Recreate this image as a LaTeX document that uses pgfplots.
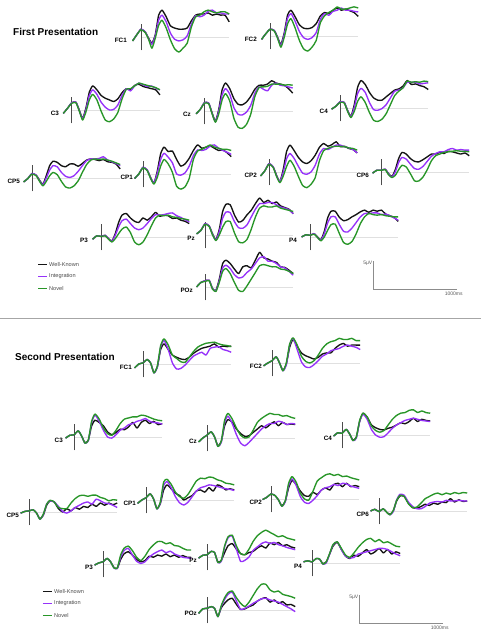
\documentclass[border=0pt]{standalone}
\usepackage{fontspec}
\setmainfont{Liberation Sans}
\usepackage{pgfplots}
\usepackage{pgfplotstable}
\pgfplotsset{compat=1.18}
\definecolor{kcol}{RGB}{20,20,20}
\definecolor{pcol}{RGB}{150,50,250}
\definecolor{gcol}{RGB}{40,150,40}
\newcommand{\labfont}{\fontsize{6.3}{7}\selectfont\bfseries}
\newcommand{\titfont}{\fontsize{10}{12}\selectfont\bfseries}
\newcommand{\legfont}{\fontsize{5.6}{6.5}\selectfont}
\newcommand{\sclfont}{\fontsize{5}{6}\selectfont}

% ---------------- First presentation ----------------
\pgfplotstableread{
t k p g
-100 -0.7 -0.7 -0.7
-50 0.4 0.4 0.4
0 1.4 1.4 1.3
50 0.9 0.9 0.8
90 -0.2 -0.3 -0.4
130 -1.1 -1.3 -2.0
170 0.4 0.2 -0.2
210 3.9 3.0 2.1
250 4.8 3.9 3.0
300 3.6 2.7 1.6
350 2.0 0.7 -0.5
400 1.6 -0.4 -2.1
450 1.4 -0.7 -2.7
500 1.4 -0.5 -2.0
550 1.6 0.2 -1.1
600 2.9 2.3 1.8
650 3.9 3.8 3.6
700 4.1 3.6 3.9
750 4.1 3.9 4.5
800 4.3 4.6 4.8
850 3.9 4.8 4.5
900 4.1 4.3 4.3
950 3.9 4.3 4.5
1000 3.9 4.1 4.5
1050 2.7 4.1 4.1
}\fFCone
\pgfplotstableread{
t k p g
-100 -0.6 -0.6 -0.6
-50 0.4 0.4 0.4
0 1.2 1.2 1.2
50 1.0 1.0 0.9
90 -0.2 -0.3 -0.4
130 -1.5 -1.7 -2.0
170 0.6 0.3 -0.2
210 3.8 3.2 2.2
250 4.6 4.0 3.1
300 3.4 2.6 1.4
350 2.0 0.8 -0.8
400 1.4 -0.3 -2.3
450 1.3 -0.6 -2.7
500 1.5 -0.3 -2.0
550 2.2 0.6 -0.8
600 3.6 3.0 2.4
650 4.2 4.0 3.6
700 4.0 3.7 4.2
750 4.6 4.4 4.6
800 5.0 4.6 5.2
850 4.6 5.0 4.8
900 4.8 4.6 4.8
950 4.5 4.6 5.0
1000 4.2 4.4 5.2
1050 3.5 4.3 5.0
}\fFCtwo
\pgfplotstableread{
t k p g
-100 -0.6 -0.6 -0.6
-50 0.3 0.3 0.3
0 1.3 1.3 1.2
50 1.4 1.4 1.3
90 0.0 -0.1 -0.2
130 -1.5 -1.6 -1.8
170 0.4 0.1 -0.3
210 3.2 2.6 1.8
250 4.3 3.6 2.8
300 3.6 2.8 1.8
350 2.6 1.4 -0.2
400 2.1 0.5 -1.8
450 1.8 0.0 -2.1
500 1.5 0.1 -1.6
550 2.0 0.9 -0.4
600 3.1 2.6 2.0
650 3.8 3.8 3.7
700 3.6 3.4 3.8
750 4.4 4.3 4.3
800 4.6 4.8 4.8
850 4.2 4.5 4.6
900 4.0 4.2 4.4
950 3.8 4.3 4.2
1000 3.6 3.9 4.0
1050 2.7 3.6 3.6
}\fCthree
\pgfplotstableread{
t k p g
-100 -0.5 -0.5 -0.5
-50 0.3 0.3 0.3
0 1.5 1.5 1.4
50 1.4 1.4 1.3
90 -0.3 -0.4 -0.5
130 -1.8 -1.9 -2.0
170 0.3 0.0 -0.5
210 3.8 2.9 2.0
250 5.0 4.0 3.1
300 4.0 3.0 1.8
350 2.2 0.6 -1.3
400 1.2 -0.6 -2.9
450 1.1 -0.7 -3.1
500 1.6 -0.2 -2.4
550 2.6 1.0 -0.6
600 3.9 3.2 2.6
650 4.6 4.3 4.2
700 4.6 3.9 4.3
750 4.8 3.6 4.4
800 5.4 4.6 4.8
850 5.0 5.0 4.8
900 4.8 4.6 4.8
950 4.6 4.5 4.6
1000 4.0 4.3 4.7
1050 3.2 4.1 4.6
}\fCz
\pgfplotstableread{
t k p g
-100 -0.2 -0.2 -0.2
-50 0.3 0.3 0.3
0 1.1 1.1 1.0
50 1.0 1.0 0.9
90 -0.4 -0.5 -0.6
130 -1.5 -1.6 -1.7
170 0.6 0.1 -0.6
210 3.7 2.6 1.2
250 4.9 3.5 2.0
300 4.2 2.8 1.0
350 2.8 1.0 -0.8
400 1.8 -0.3 -2.2
450 1.4 -0.4 -2.4
500 1.4 -0.1 -2.0
550 2.0 0.6 -1.0
600 2.6 1.8 0.6
650 3.2 3.0 2.2
700 3.4 3.2 3.0
750 3.9 3.6 3.6
800 4.9 4.6 4.8
850 4.2 4.6 4.6
900 4.3 4.6 4.7
950 4.0 4.3 4.6
1000 3.8 4.4 4.8
1050 3.3 4.5 4.7
}\fCfour
\pgfplotstableread{
t k p g
-100 -0.7 -0.7 -0.7
-50 -0.1 -0.1 -0.1
0 0.8 0.8 0.7
50 0.5 0.5 0.4
90 -0.4 -0.5 -0.6
130 -1.1 -1.2 -1.4
170 0.4 0.0 -0.6
210 2.2 1.4 0.4
250 3.0 2.2 1.0
300 2.8 2.0 0.6
350 2.2 1.0 -0.6
400 2.0 0.3 -1.6
450 2.5 0.1 -1.8
500 2.5 0.4 -1.4
550 2.1 1.2 -0.5
600 2.6 2.2 1.0
650 3.2 3.1 2.4
700 3.4 3.4 3.2
750 3.3 3.4 3.4
800 3.1 3.5 3.3
850 3.3 3.8 3.4
900 2.9 3.2 3.2
950 2.8 2.9 3.0
1000 2.5 2.6 2.7
1050 1.6 2.2 2.4
}\fCPfive
\pgfplotstableread{
t k p g
-100 -0.8 -0.8 -0.8
-50 0.0 0.0 0.0
0 1.2 1.2 1.1
50 0.7 0.7 0.6
90 -0.6 -0.7 -0.8
130 -1.6 -1.6 -1.8
170 0.5 0.1 -0.6
210 3.6 2.6 1.4
250 4.8 3.7 2.6
300 4.0 3.0 1.8
350 4.1 2.0 0.3
400 2.6 0.0 -2.2
450 1.4 -0.2 -2.7
500 1.8 0.2 -2.3
550 2.8 1.4 -0.8
600 4.2 3.3 2.6
650 5.2 4.3 4.1
700 4.6 4.2 4.4
750 4.8 4.4 4.8
800 5.0 5.0 5.2
850 4.6 5.2 4.8
900 4.2 4.6 4.6
950 4.3 4.2 4.4
1000 3.8 3.9 4.4
1050 3.1 3.5 4.2
}\fCPone
\pgfplotstableread{
t k p g
-100 -0.7 -0.7 -0.7
-50 0.2 0.2 0.2
0 1.5 1.5 1.4
50 0.9 0.9 0.8
90 -0.6 -0.7 -0.8
130 -1.7 -1.7 -1.9
170 0.5 0.0 -0.7
210 3.7 2.4 1.0
250 4.8 3.3 2.1
300 3.8 2.4 1.0
350 2.6 1.0 -0.8
400 1.8 -0.2 -2.4
450 1.5 -0.4 -2.8
500 2.0 0.0 -2.2
550 3.0 1.2 -1.0
600 4.4 3.2 2.0
650 5.1 4.2 3.8
700 4.6 4.0 4.2
750 4.9 4.4 4.5
800 5.4 4.8 4.6
850 4.5 4.8 4.6
900 4.6 4.5 4.5
950 4.2 4.3 4.3
1000 4.0 4.0 4.2
1050 3.4 3.4 3.9
}\fCPtwo
\pgfplotstableread{
t k p g
-100 -0.2 -0.2 -0.2
-50 0.3 0.3 0.3
0 0.3 0.3 0.3
50 0.5 0.5 0.4
90 -0.3 -0.4 -0.5
130 -0.8 -0.9 -1.0
170 0.4 0.0 -0.6
210 2.4 1.7 0.4
250 3.5 2.6 1.2
300 3.2 2.3 0.9
350 2.4 1.4 -0.3
400 1.9 0.6 -1.6
450 1.8 0.5 -1.6
500 2.2 1.0 -0.9
550 2.7 1.9 0.4
600 3.2 2.8 2.0
650 3.2 3.3 2.9
700 3.5 3.6 3.2
750 3.3 3.6 3.5
800 3.7 4.0 3.6
850 3.6 4.2 3.7
900 3.4 3.9 3.8
950 3.2 4.0 3.7
1000 3.4 3.9 3.7
1050 2.9 3.9 3.6
}\fCPsix
\pgfplotstableread{
t k p g
-100 -0.4 -0.4 -0.4
-50 0.2 0.2 0.2
0 0.1 0.1 0.1
50 0.3 0.3 0.2
90 -0.3 -0.3 -0.4
130 -0.7 -0.8 -0.9
170 0.6 0.3 -0.3
210 2.6 1.8 0.6
250 3.9 2.9 1.4
300 4.2 3.2 1.8
350 3.4 2.4 0.8
400 2.8 1.6 -0.9
450 2.6 1.3 -1.4
500 3.4 1.6 -0.9
550 3.0 2.4 0.4
600 3.6 3.3 2.0
650 4.4 4.0 3.4
700 3.7 3.9 3.9
750 3.9 4.0 3.8
800 3.8 4.2 3.9
850 3.3 4.3 3.6
900 3.4 3.8 3.5
950 3.0 3.5 3.3
1000 2.8 3.1 3.2
1050 2.4 2.7 3.0
}\fPthree
\pgfplotstableread{
t k p g
-100 0.2 0.2 0.2
-50 0.8 0.8 0.8
0 2.0 2.0 1.9
50 1.6 1.6 1.5
90 0.2 0.1 0.0
130 -0.8 -0.9 -1.0
170 1.0 0.6 0.0
210 4.2 3.0 1.4
250 5.5 4.1 2.4
300 5.4 4.0 2.4
350 3.6 2.4 0.4
400 2.3 1.3 -1.2
450 2.6 1.2 -1.4
500 3.6 1.8 -0.8
550 4.4 3.2 1.0
600 5.6 4.6 3.2
650 6.6 5.6 4.8
700 5.8 5.6 5.2
750 6.2 5.8 5.0
800 5.6 5.8 5.0
850 5.9 5.4 5.2
900 5.2 5.0 4.8
950 4.9 4.8 4.6
1000 4.6 4.5 4.4
1050 3.8 3.8 4.2
}\fPz
\pgfplotstableread{
t k p g
-100 0.0 0.0 0.0
-50 0.4 0.4 0.4
0 0.3 0.3 0.3
50 0.6 0.6 0.5
90 0.0 -0.1 -0.1
130 -0.5 -0.6 -0.7
170 1.0 0.6 0.0
210 3.4 2.5 1.2
250 4.6 3.6 2.2
300 4.6 3.6 2.3
350 3.5 2.2 0.6
400 2.9 1.0 -1.0
450 3.1 0.9 -1.3
500 3.6 1.6 -0.8
550 4.0 2.6 0.6
600 4.5 3.6 2.4
650 4.8 4.2 3.6
700 4.4 4.2 4.2
750 4.8 4.3 4.0
800 4.6 4.3 3.9
850 4.8 4.0 4.0
900 4.1 4.1 3.8
950 3.8 3.8 3.7
1000 3.5 3.4 3.6
1050 2.8 3.0 3.6
}\fPfour
\pgfplotstableread{
t k p g
-100 0.0 0.0 0.0
-50 0.8 0.8 0.8
0 1.1 1.1 1.0
50 1.2 1.2 1.1
90 -0.3 -0.3 -0.4
130 -0.6 -0.7 -0.8
170 1.4 1.1 0.8
210 4.2 3.4 2.8
250 4.8 3.9 3.3
300 4.2 3.3 2.4
350 3.2 2.2 0.8
400 2.4 1.6 -0.6
450 3.6 1.8 -0.8
500 3.8 2.6 0.2
550 3.4 3.2 1.4
600 4.8 4.2 2.6
650 6.2 5.2 3.8
700 5.2 5.4 4.0
750 5.0 4.6 3.8
800 4.6 4.6 3.6
850 4.4 4.2 3.6
900 3.6 3.6 3.2
950 3.5 3.4 3.1
1000 3.0 2.8 2.8
1050 2.4 2.1 2.4
}\fPOz

% ---------------- Second presentation ----------------
\pgfplotstableread{
t k p g
-100 -0.7 -0.7 -0.7
-50 0.0 0.0 0.0
0 0.2 0.2 0.2
50 0.8 0.8 0.8
90 0.2 0.2 0.2
130 -1.5 -1.6 -1.6
170 -0.6 -0.6 -0.4
210 2.6 3.0 3.3
250 3.6 4.2 4.5
300 2.6 2.6 3.4
350 1.6 0.2 1.6
400 1.2 -0.9 1.0
450 0.9 -0.8 0.4
500 0.8 -0.2 0.3
550 1.2 0.6 1.2
600 1.9 1.4 2.2
650 2.4 1.8 3.0
700 2.8 2.1 3.4
750 3.0 1.6 3.7
800 3.2 2.8 3.8
850 3.6 3.0 3.9
900 3.0 3.1 3.6
950 3.2 2.6 3.4
1000 3.1 2.4 3.3
1050 3.2 2.1 3.1
}\sFCone
\pgfplotstableread{
t k p g
-100 -0.5 -0.5 -0.5
-50 0.0 0.0 0.0
0 0.4 0.4 0.4
50 1.1 1.1 1.1
90 0.0 0.0 0.0
130 -1.3 -1.4 -1.4
170 -0.2 -0.4 0.0
210 2.8 3.2 3.4
250 4.2 4.4 4.5
300 3.0 2.4 3.2
350 1.8 0.2 1.2
400 1.3 -0.7 0.3
450 1.0 -0.8 0.0
500 0.7 -0.3 0.4
550 1.0 0.4 1.4
600 1.6 1.2 2.6
650 1.8 1.6 3.4
700 1.8 2.2 3.8
750 2.6 2.4 4.0
800 3.2 2.6 4.4
850 3.5 3.0 4.2
900 3.0 3.2 4.2
950 3.2 3.0 4.4
1000 3.2 2.8 4.0
1050 3.2 2.4 4.0
}\sFCtwo
\pgfplotstableread{
t k p g
-100 -0.2 -0.2 -0.2
-50 0.3 0.3 0.3
0 0.4 0.4 0.4
50 1.1 1.1 1.1
90 0.2 0.2 0.2
130 -1.0 -1.1 -1.1
170 -0.6 -0.7 -0.6
210 2.0 2.6 2.8
250 3.0 3.9 4.1
300 2.6 2.8 3.2
350 2.0 1.2 1.6
400 0.9 0.0 0.6
450 0.4 -0.2 0.3
500 0.8 0.4 1.2
550 1.4 1.2 2.4
600 1.3 1.6 3.2
650 1.8 2.2 3.4
700 2.6 2.4 3.6
750 1.6 2.8 3.6
800 2.6 3.0 3.9
850 3.0 3.3 3.8
900 2.4 2.8 3.5
950 2.8 2.6 3.2
1000 2.2 2.5 3.0
1050 2.4 2.3 2.9
}\sCthree
\pgfplotstableread{
t k p g
-100 -0.7 -0.7 -0.7
-50 0.0 0.0 0.0
0 0.5 0.5 0.5
50 1.1 1.1 1.1
90 0.2 0.2 0.2
130 -1.4 -1.5 -1.5
170 -0.6 -0.8 -0.6
210 2.2 2.8 3.2
250 3.3 3.9 4.4
300 2.8 2.6 3.4
350 1.6 0.6 1.8
400 0.8 -0.9 0.5
450 0.3 -1.4 0.0
500 0.4 -0.8 0.2
550 1.0 0.0 1.4
600 1.6 0.8 2.8
650 2.2 1.6 3.5
700 1.8 2.2 4.0
750 2.4 2.6 4.4
800 2.9 2.6 4.2
850 2.2 3.0 4.2
900 2.8 2.8 3.9
950 2.4 2.4 4.0
1000 2.5 2.6 3.7
1050 2.4 2.5 3.5
}\sCz
\pgfplotstableread{
t k p g
-100 -0.2 -0.2 -0.2
-50 0.4 0.4 0.4
0 0.3 0.3 0.3
50 1.0 1.0 1.0
90 0.2 0.2 0.2
130 -0.9 -1.0 -1.0
170 -0.4 -0.6 -0.4
210 2.4 2.4 2.6
250 3.9 3.7 3.9
300 3.2 2.8 3.2
350 1.8 1.0 1.6
400 1.3 0.0 0.8
450 1.0 -0.4 0.5
500 0.9 -0.3 0.8
550 1.2 0.4 1.8
600 1.4 1.2 2.8
650 1.8 1.8 3.5
700 2.2 2.2 3.9
750 2.0 2.6 4.0
800 2.4 2.8 4.4
850 3.0 3.0 4.5
900 2.4 2.8 4.0
950 2.8 2.6 4.3
1000 2.6 2.5 4.0
1050 2.5 2.4 3.9
}\sCfour
\pgfplotstableread{
t k p g
-100 -0.2 -0.2 -0.2
-50 0.1 0.1 0.1
0 0.2 0.2 0.2
50 0.4 0.4 0.4
90 -0.2 -0.2 -0.2
130 -1.2 -1.3 -1.3
170 -0.6 -0.5 -0.4
210 1.2 1.4 1.4
250 2.0 2.0 2.1
300 1.8 1.8 1.8
350 0.6 1.0 0.8
400 0.0 0.1 0.6
450 0.6 -0.2 0.6
500 0.2 0.2 1.6
550 0.8 0.8 2.4
600 0.5 1.2 2.9
650 1.0 1.6 3.0
700 0.8 1.8 2.8
750 1.4 1.4 3.0
800 1.0 2.3 3.0
850 1.6 2.0 2.6
900 1.2 1.6 2.4
950 1.6 1.5 2.0
1000 1.3 1.2 2.2
1050 1.6 0.8 2.1
}\sCPfive
\pgfplotstableread{
t k p g
-100 -0.6 -0.6 -0.6
-50 0.0 0.0 0.0
0 0.4 0.4 0.4
50 1.1 1.1 1.1
90 0.2 0.2 0.2
130 -1.5 -1.6 -1.6
170 -0.7 -0.6 -0.4
210 1.8 2.6 3.2
250 2.7 3.3 3.7
300 2.0 2.2 2.8
350 1.2 0.6 1.4
400 0.8 -0.5 0.6
450 0.0 -0.9 0.3
500 0.4 -0.4 1.0
550 0.8 0.6 2.2
600 1.6 1.6 3.4
650 1.8 2.2 3.9
700 1.4 2.4 3.8
750 2.2 2.7 4.1
800 1.6 2.6 4.0
850 2.7 2.4 3.6
900 2.4 2.2 3.4
950 1.8 2.0 3.0
1000 2.0 1.9 2.9
1050 1.8 1.7 2.7
}\sCPone
\pgfplotstableread{
t k p g
-100 -0.1 -0.1 -0.1
-50 0.3 0.3 0.3
0 0.9 0.9 0.9
50 0.6 0.6 0.6
90 -0.2 -0.2 -0.2
130 -1.2 -1.3 -1.3
170 -0.4 -0.5 -0.3
210 2.0 2.4 2.8
250 3.3 3.6 4.0
300 2.6 2.4 3.0
350 1.4 0.4 1.0
400 0.6 -0.6 0.0
450 0.5 -0.8 -0.2
500 1.2 -0.2 1.4
550 0.8 0.6 3.2
600 1.6 1.6 3.8
650 2.0 2.0 4.3
700 1.6 2.2 4.5
750 2.6 2.6 4.2
800 2.8 2.4 4.4
850 2.2 2.8 4.0
900 2.8 2.7 4.1
950 2.2 2.3 3.8
1000 2.4 2.1 3.6
1050 2.2 1.9 3.4
}\sCPtwo
\pgfplotstableread{
t k p g
-100 0.0 0.0 0.0
-50 0.3 0.3 0.3
0 -0.1 -0.1 -0.1
50 0.4 0.4 0.4
90 -0.2 -0.2 -0.2
130 -0.6 -0.7 -0.7
170 0.0 -0.1 0.1
210 1.8 2.0 1.9
250 2.7 3.0 2.8
300 2.6 2.8 2.6
350 1.4 1.6 1.3
400 0.6 0.8 0.6
450 0.5 0.4 0.7
500 0.8 0.4 1.4
550 1.2 0.8 2.2
600 1.0 1.4 2.6
650 1.4 1.6 3.0
700 1.2 1.7 3.2
750 1.6 1.6 2.9
800 1.5 1.9 3.2
850 2.2 1.8 3.0
900 1.6 1.8 3.3
950 2.0 1.9 3.1
1000 1.7 1.8 3.3
1050 1.8 1.8 3.2
}\sCPsix
\pgfplotstableread{
t k p g
-100 -0.2 -0.2 -0.2
-50 0.2 0.2 0.2
0 0.4 0.4 0.4
50 1.0 1.0 1.0
90 0.4 0.4 0.4
130 -0.6 -0.7 -0.7
170 -0.8 -0.8 -0.7
210 0.8 1.2 1.6
250 1.8 2.4 2.8
300 2.2 2.8 3.2
350 1.6 1.6 2.4
400 0.8 0.5 1.2
450 0.4 0.1 0.6
500 0.6 0.4 1.4
550 1.4 1.2 2.6
600 1.2 1.8 3.4
650 1.6 2.2 4.0
700 1.4 2.5 4.0
750 1.8 2.0 3.6
800 1.3 2.3 3.8
850 1.6 1.8 3.3
900 1.2 1.5 3.2
950 1.5 1.2 2.8
1000 1.2 1.1 2.5
1050 1.2 1.0 2.5
}\sPthree
\pgfplotstableread{
t k p g
-100 -0.2 -0.2 -0.2
-50 0.3 0.3 0.3
0 0.4 0.4 0.4
50 1.0 1.0 1.0
90 0.8 0.8 0.8
130 -0.9 -1.0 -1.0
170 -0.6 -0.8 -0.6
210 0.8 1.8 2.0
250 2.0 3.4 3.6
300 2.4 3.8 3.9
350 1.4 1.4 2.0
400 0.6 -0.8 0.6
450 0.4 -0.6 0.4
500 0.8 0.0 1.4
550 1.0 1.2 2.8
600 1.6 1.8 3.8
650 2.0 2.4 4.4
700 1.6 2.7 4.8
750 2.5 2.4 4.4
800 2.2 2.6 4.0
850 2.6 2.2 3.6
900 2.0 2.0 3.8
950 2.2 1.7 3.4
1000 1.8 1.5 3.2
1050 1.6 1.3 3.0
}\sPz
\pgfplotstableread{
t k p g
-100 0.2 0.2 0.2
-50 0.4 0.4 0.4
0 0.2 0.2 0.2
50 0.8 0.8 0.8
90 0.7 0.7 0.7
130 -0.1 -0.2 -0.2
170 0.2 0.0 0.2
210 1.6 1.6 1.7
250 3.0 3.2 3.3
300 3.7 3.8 3.8
350 2.4 2.4 2.6
400 1.2 1.2 1.4
450 0.8 0.9 1.0
500 1.4 1.0 1.8
550 1.2 1.6 2.8
600 1.8 1.8 3.6
650 2.4 2.0 4.2
700 1.6 2.2 4.4
750 2.0 2.4 3.8
800 2.6 2.6 4.2
850 1.8 2.6 3.6
900 2.4 2.4 3.8
950 1.6 2.0 3.4
1000 2.0 1.6 3.0
1050 1.7 1.3 2.9
}\sPfour
\pgfplotstableread{
t k p g
-100 -0.6 -0.6 -0.6
-50 0.2 0.2 0.2
0 0.3 0.3 0.3
50 0.6 0.6 0.6
90 0.3 0.3 0.3
130 -1.1 -1.2 -1.2
170 0.4 0.6 0.8
210 1.2 1.9 2.2
250 1.8 2.8 3.1
300 2.1 3.2 3.4
350 1.0 1.6 2.2
400 0.1 0.1 1.2
450 0.2 0.3 0.6
500 0.6 0.7 1.4
550 0.9 1.2 2.6
600 1.6 1.6 3.8
650 2.0 2.0 4.6
700 2.2 2.1 4.6
750 1.4 1.8 3.6
800 1.8 1.6 3.2
850 1.2 1.4 3.4
900 1.5 1.0 2.8
950 0.9 0.6 2.6
1000 1.0 0.2 2.4
1050 0.6 -0.3 2.1
}\sPOz

\pgfplotsset{
  erp/.style={hide axis, scale only axis, x=0.084pt, y=5.6pt,
    xmin=-100, xmax=1100, ymin=-6, ymax=9, clip=false, anchor=south west},
  wave/.style={line width=1.35pt, smooth, tension=0.35, line join=round}
}
% #1 table, #2 onset x (px), #3 baseline y (px from top), #4 label, #5 label x (ms)
\newcommand{\erp}[5]{%
\begin{axis}[erp, at={({#2pt-8.4pt},{600.4pt-#3pt})}]
\addplot[black!12, line width=0.5pt] coordinates {(0,0) (1050,0)};
\addplot[black!70, line width=0.8pt] coordinates {(0,-2.4) (0,2.4)};
\addplot[wave, kcol] table[x=t,y=k] {#1};
\addplot[wave, pcol] table[x=t,y=p] {#1};
\addplot[wave, gcol] table[x=t,y=g] {#1};
\node[anchor=east, inner sep=0pt, font=\labfont] at (axis cs:#5,-0.6) {#4};
\end{axis}}
% legend: #1 x, #2 y (top, px from top)
\newcommand{\erplegend}[2]{%
\begin{axis}[hide axis, scale only axis, x=1pt, y=1pt, xmin=0, xmax=45,
  ymin=-30, ymax=0, clip=false, anchor=north west, at={(#1pt,{634pt-#2pt})}]
\addplot[kcol, line width=1.35pt] coordinates {(0,-3.5) (9,-3.5)};
\addplot[pcol, line width=1.35pt] coordinates {(0,-15.5) (9,-15.5)};
\addplot[gcol, line width=1.35pt] coordinates {(0,-27.5) (9,-27.5)};
\node[anchor=west, inner sep=0pt, font=\legfont, text=black!70] at (axis cs:11,-3.5) {Well-Known};
\node[anchor=west, inner sep=0pt, font=\legfont, text=black!70] at (axis cs:11,-15.5) {Integration};
\node[anchor=west, inner sep=0pt, font=\legfont, text=black!70] at (axis cs:11,-27.5) {Novel};
\end{axis}}
% scale bar: #1 x corner, #2 y corner (px from top)
\newcommand{\scalebar}[2]{%
\begin{axis}[hide axis, scale only axis, x=0.084pt, y=5.6pt, xmin=0, xmax=1000,
  ymin=0, ymax=5, clip=false, anchor=south west, at={(#1pt,{634pt-#2pt})}]
\addplot[black!45, line width=0.5pt] coordinates {(0,5) (0,0) (1000,0)};
\node[anchor=north east, inner sep=0.5pt, font=\sclfont, text=black!65] at (axis cs:0,5.1) {5μV};
\node[anchor=north, inner sep=0pt, font=\sclfont, text=black!65] at (axis cs:960,-0.5) {1000ms};
\end{axis}}

\begin{document}
\begin{tikzpicture}[x=1pt, y=1pt]
\useasboundingbox[fill=white] (0,0) rectangle (481,634);
% titles
\node[anchor=west, inner sep=0pt, font=\titfont] at (13,{634-32}) {First Presentation};
\node[anchor=west, inner sep=0pt, font=\titfont] at (15,{634-357}) {Second Presentation};
% separator
\draw[black!35, line width=0.8pt] (0,{634-318}) -- (481,{634-318});

% ---- first presentation ----
\erp{\fFCone}{141}{37}{FC1}{-167}
\erp{\fFCtwo}{270}{36}{FC2}{-155}
\erp{\fCthree}{71.7}{110}{C3}{-151}
\erp{\fCz}{204.5}{111}{Cz}{-161}
\erp{\fCfour}{340}{108}{C4}{-143}
\erp{\fCPfive}{32}{178}{CP5}{-143}
\erp{\fCPone}{143}{174}{CP1}{-119}
\erp{\fCPtwo}{269}{172}{CP2}{-143}
\erp{\fCPsix}{381}{172}{CP6}{-143}
\erp{\fPthree}{101}{237}{P3}{-155}
\erp{\fPz}{205}{235}{Pz}{-119}
\erp{\fPfour}{310}{237}{P4}{-155}
\erp{\fPOz}{205}{287}{POz}{-143}
\erplegend{38}{261}
\scalebar{373}{289}

% ---- second presentation ----
\erp{\sFCone}{143}{364}{FC1}{-131}
\erp{\sFCtwo}{272}{363}{FC2}{-119}
\erp{\sCthree}{74}{437}{C3}{-131}
\erp{\sCz}{207}{438}{Cz}{-119}
\erp{\sCfour}{342}{435}{C4}{-119}
\erp{\sCPfive}{29}{512}{CP5}{-119}
\erp{\sCPone}{146}{500}{CP1}{-119}
\erp{\sCPtwo}{271}{499}{CP2}{-107}
\erp{\sCPsix}{379}{511}{CP6}{-119}
\erp{\sPthree}{103}{564}{P3}{-119}
\erp{\sPz}{207}{557}{Pz}{-119}
\erp{\sPfour}{312}{563}{P4}{-119}
\erp{\sPOz}{207}{610}{POz}{-119}
\erplegend{43}{588}
\scalebar{359}{623}
\end{tikzpicture}
\end{document}
